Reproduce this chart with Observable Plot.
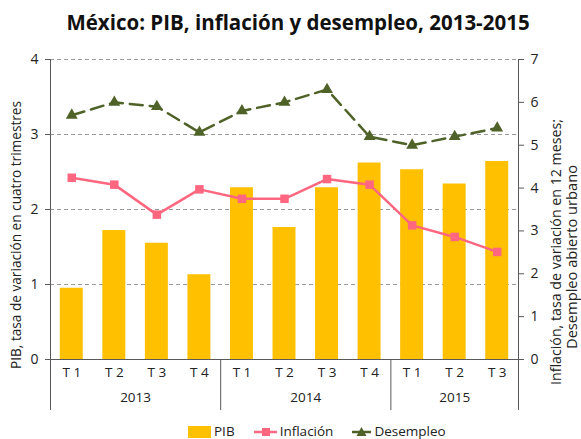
<!DOCTYPE html>
<html>
<head>
<meta charset="utf-8">
<script src="https://cdn.jsdelivr.net/npm/d3@7"></script>
<script src="https://cdn.jsdelivr.net/npm/@observablehq/plot@0.6"></script>
<style>
  body { margin: 0; background: #fff; font-family: "Open Sans", sans-serif; color: #222; }
  #wrap { width: 581px; height: 439px; position: relative; overflow: hidden; }
  #title { height: 44px; line-height: 44px; text-align: center; font-weight: bold; font-size: 20.5px; padding-left: 15px; box-sizing: border-box; color: #111; white-space: nowrap; }
  #legend { position: absolute; top: 424px; left: 188px; display: flex; align-items: center; font-size: 13.5px; height: 15px; line-height: 15px; }
  #legend .item { display: flex; align-items: center; margin-right: 19px; }
  #legend svg { display: block; margin-right: 2px; }
</style>
</head>
<body>
<div id="wrap">
  <div id="title">México: PIB, inflación y desempleo, 2013-2015</div>
  <div id="chart"></div>
  <div id="legend"></div>
</div>
<script>
const years = ["2013","2013","2013","2013","2014","2014","2014","2014","2015","2015","2015"];
const quarters = ["T 1","T 2","T 3","T 4","T 1","T 2","T 3","T 4","T 1","T 2","T 3"];
const pib = [0.95, 1.72, 1.55, 1.13, 2.29, 1.76, 2.29, 2.62, 2.53, 2.34, 2.64];
const inflacion = [4.24, 4.08, 3.38, 3.97, 3.75, 3.75, 4.21, 4.08, 3.13, 2.86, 2.51];
const desempleo = [5.7, 6.0, 5.9, 5.3, 5.8, 6.0, 6.3, 5.2, 5.0, 5.2, 5.4];
const leftTicks = [0, 1, 2, 3, 4];
const rightTicks = [0, 1, 2, 3, 4, 5, 6, 7];
const gridTicks = [1, 2, 3, 4];

const colors = { pib: "#FFC000", inf: "#FF6680", des: "#4F6228" };
const leftMax = 4, rightMax = 7;
const k = leftMax / rightMax;

const data = years.map((y, i) => ({ i, year: y, q: quarters[i], pib: pib[i], inf: inflacion[i], des: desempleo[i] }));
const uniqueYears = [...new Set(years)];
const yearCenters = uniqueYears.map(y => {
  const idx = data.filter(d => d.year === y).map(d => d.i);
  return { year: y, x: d3.mean(idx) };
});
const bounds = [-0.5];
data.forEach((d, i) => { if (i > 0 && d.year !== data[i - 1].year) bounds.push(i - 0.5); });
bounds.push(data.length - 0.5);
const halfBar = 0.27;

const axisColor = "#595959";

const chart = Plot.plot({
  width: 581,
  height: 376,
  marginLeft: 50,
  marginRight: 63,
  marginTop: 15,
  marginBottom: 61,
  style: { fontFamily: "Open Sans, sans-serif", fontSize: "14px", color: "#222", background: "white" },
  x: { type: "linear", domain: [-0.5, data.length - 0.5], axis: null },
  y: { domain: [0, leftMax], axis: null },
  marks: [
    Plot.ruleY(gridTicks, { stroke: "#9a9a9a", strokeDasharray: "4,3", strokeWidth: 1 }),
    Plot.rect(data, { x1: d => d.i - halfBar, x2: d => d.i + halfBar, y1: 0, y2: "pib", fill: colors.pib }),
    Plot.line(data, { x: "i", y: d => d.inf * k, stroke: colors.inf, strokeWidth: 2.5 }),
    Plot.dot(data, { x: "i", y: d => d.inf * k, symbol: "square", r: 4.8, fill: colors.inf, stroke: "none" }),
    Plot.line(data, { x: "i", y: d => d.des * k, stroke: colors.des, strokeWidth: 2.5, strokeDasharray: "13,7" }),
    Plot.dot(data, { x: "i", y: d => d.des * k, symbol: "triangle", r: 4.4, fill: colors.des, stroke: "none" }),
    Plot.ruleY([0], { stroke: axisColor, strokeWidth: 1 }),
    Plot.ruleX([bounds[0], bounds[bounds.length - 1]], { stroke: axisColor, strokeWidth: 1 }),
    Plot.ruleX(bounds, { y1: 0, y2: 0, insetBottom: -51, stroke: axisColor, strokeWidth: 1 }),
    Plot.axisY(leftTicks, { anchor: "left", tickSize: 5, tickPadding: 7, label: null, tickFormat: d => String(d), stroke: axisColor, fontSize: 14, fill: "#222" }),
    Plot.axisY(rightTicks.map(v => v * k), { anchor: "right", tickSize: 5, tickPadding: 7, label: null, tickFormat: d => String(Math.round(d / k)), stroke: axisColor, fontSize: 14, fill: "#222" }),
    Plot.text(data, { x: "i", frameAnchor: "bottom", dy: 17, text: "q", fontSize: 13.5, fill: "#222" }),
    Plot.text(yearCenters, { x: "x", frameAnchor: "bottom", dy: 42, text: "year", fontSize: 13.5, fill: "#222" })
  ]
});
document.getElementById("chart").appendChild(chart);

// axis titles
const svg = d3.select(chart);
function vlabel(x, y, len, txt) {
  svg.append("text")
    .attr("transform", `translate(${x},${y}) rotate(-90)`)
    .attr("text-anchor", "middle").attr("dominant-baseline", "middle")
    .attr("font-size", 14).attr("fill", "#222")
    .attr("textLength", len).attr("lengthAdjust", "spacingAndGlyphs")
    .text(txt);
}
vlabel(17, 191, 268, "PIB, tasa de variación en cuatro trimestres");
vlabel(557, 208, 266, "Inflación, tasa de variación en 12 meses;");
vlabel(573, 213, 184, "Desempleo abierto urbano");

// legend
const legendItems = [
  { label: "PIB", type: "bar", color: colors.pib },
  { label: "Inflación", type: "square", color: colors.inf },
  { label: "Desempleo", type: "triangle", color: colors.des }
];
const legend = d3.select("#legend");
legendItems.forEach(it => {
  const item = legend.append("div").attr("class", "item");
  const w = it.type === "triangle" ? 19 : 23;
  const s = item.append("svg").attr("width", w + 1).attr("height", 12);
  if (it.type === "bar") {
    s.append("rect").attr("x", 0).attr("y", 0).attr("width", 23).attr("height", 12).attr("fill", it.color);
  } else {
    s.append("line").attr("x1", 0).attr("x2", w).attr("y1", 6).attr("y2", 6).attr("stroke", it.color).attr("stroke-width", 2.5);
    if (it.type === "square") s.append("rect").attr("x", 8).attr("y", 2).attr("width", 8).attr("height", 8).attr("fill", it.color);
    else s.append("path").attr("d", `M${w / 2},1 L${w / 2 + 5},10 L${w / 2 - 5},10 Z`).attr("fill", it.color);
  }
  item.append("span").text(it.label);
});
</script>
</body>
</html>
